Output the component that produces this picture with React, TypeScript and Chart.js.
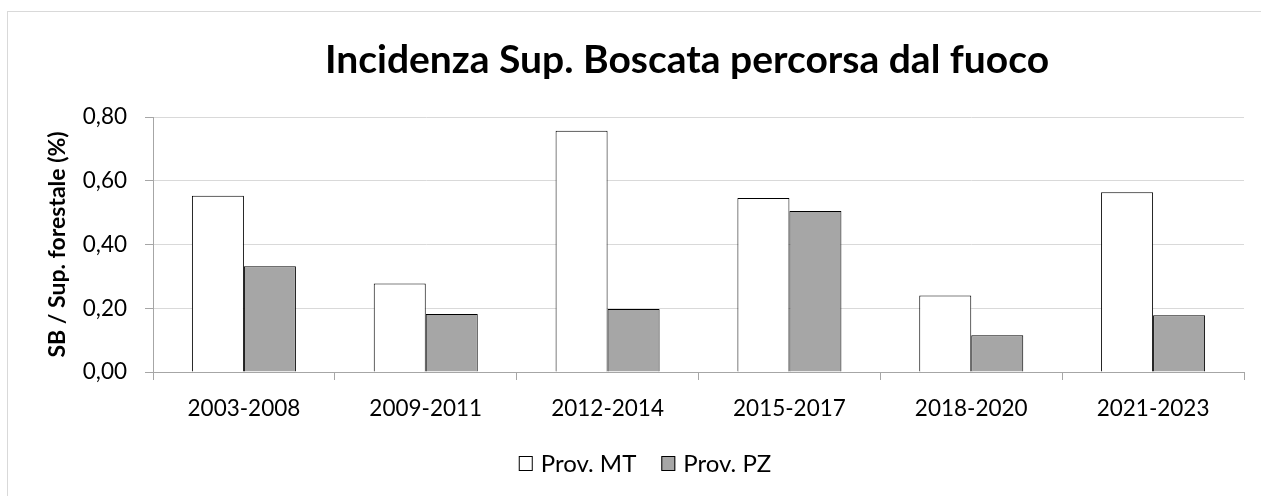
import React, { useEffect, useRef } from "react";
import { Chart, registerables } from "chart.js";

Chart.register(...registerables);

const categories = ["2003-2008", "2009-2011", "2012-2014", "2015-2017", "2018-2020", "2021-2023"];
const seriesMT = [0.553, 0.278, 0.757, 0.546, 0.24, 0.564];
const seriesPZ = [0.332, 0.182, 0.198, 0.505, 0.115, 0.178];
const yTicks = [0, 0.2, 0.4, 0.6, 0.8];
const titleText = "Incidenza Sup. Boscata percorsa dal fuoco";
const yTitle = "SB / Sup. forestale (%)";

const FONT = "Lato, 'Open Sans', sans-serif";

const borderPlugin = {
  id: "outerBorder",
  beforeDraw(chart: any) {
    const ctx = chart.ctx;
    ctx.save();
    ctx.fillStyle = "#ffffff";
    ctx.fillRect(0, 0, chart.width, chart.height);
    ctx.strokeStyle = "#d9d9d9";
    ctx.lineWidth = 1;
    ctx.strokeRect(7.5, 11.5, chart.width + 20, chart.height + 20);
    ctx.restore();
  },
};

const titlePlugin = {
  id: "centeredTitle",
  afterDraw(chart: any) {
    const ctx = chart.ctx;
    ctx.save();
    ctx.fillStyle = "#000000";
    ctx.font = `bold 39px ${FONT}`;
    ctx.textAlign = "center";
    ctx.textBaseline = "alphabetic";
    ctx.fillText(titleText, 687, 73);
    ctx.restore();
  },
};

const legendPlugin = {
  id: "customLegend",
  afterDraw(chart: any) {
    const ctx = chart.ctx;
    ctx.save();
    ctx.font = `24px ${FONT}`;
    ctx.textBaseline = "alphabetic";
    ctx.textAlign = "left";
    const box = 14;
    const gapText = 8;
    const gapItem = 25;
    const items = chart.data.datasets.map((d: any) => ({
      label: d.label,
      fill: d.backgroundColor,
      w: box + gapText + ctx.measureText(d.label).width,
    }));
    const total = items.reduce((s: number, it: any) => s + it.w, 0) + gapItem * (items.length - 1);
    let x = 645 - total / 2;
    const boxTop = 456.5;
    items.forEach((it: any) => {
      ctx.fillStyle = it.fill;
      ctx.fillRect(x, boxTop, box, box);
      ctx.strokeStyle = "#000000";
      ctx.lineWidth = 1;
      ctx.strokeRect(x + 0.5, boxTop, box - 1, box);
      ctx.fillStyle = "#000000";
      ctx.fillText(it.label, x + box + gapText, 471.5);
      x += it.w + gapItem;
    });
    ctx.restore();
  },
};

export default function App() {
  const ref = useRef<HTMLCanvasElement | null>(null);
  useEffect(() => {
    if (!ref.current) return;
    const chart = new Chart(ref.current, {
      type: "bar",
      data: {
        labels: categories,
        datasets: [
          {
            label: "Prov. MT",
            data: seriesMT,
            backgroundColor: "#ffffff",
            borderColor: "#000000",
            borderWidth: 1,
          },
          {
            label: "Prov. PZ",
            data: seriesPZ,
            backgroundColor: "#a6a6a6",
            borderColor: "#000000",
            borderWidth: 1,
          },
        ],
      },
      options: {
        responsive: false,
        animation: false,
        layout: { padding: { left: 0, right: 17, top: 117, bottom: 63 } },
        datasets: { bar: { barPercentage: 1, categoryPercentage: 0.572 } },
        plugins: {
          title: { display: false },
          legend: { display: false },
          tooltip: { enabled: false },
        },
        scales: {
          x: {
            grid: {
              display: true,
              drawOnChartArea: false,
              drawTicks: true,
              tickLength: 8,
              color: "#a6a6a6",
              offset: true,
            },
            border: { display: true, color: "#a6a6a6", width: 1 },
            ticks: {
              color: "#000000",
              font: { family: FONT, size: 22.5 },
              padding: 15,
            },
            afterFit(scale: any) {
              scale.height = 61;
            },
          },
          y: {
            min: 0,
            max: 0.8,
            afterBuildTicks(scale: any) {
              scale.ticks = yTicks.map((v) => ({ value: v }));
            },
            grid: {
              color: "#d9d9d9",
              tickColor: "#a6a6a6",
              tickLength: 8,
            },
            border: { display: true, color: "#a6a6a6", width: 1 },
            ticks: {
              color: "#000000",
              font: { family: FONT, size: 22.5 },
              padding: 18,
              callback: (v: any) => Number(v).toFixed(2).replace(".", ","),
            },
            title: {
              display: true,
              text: yTitle,
              color: "#000000",
              font: { family: FONT, size: 23, weight: "bold" },
              padding: { top: 44, bottom: 0 },
            },
            afterFit(scale: any) {
              scale.width = 153;
            },
          },
        },
      },
      plugins: [borderPlugin, titlePlugin, legendPlugin],
    } as any);
    return () => chart.destroy();
  }, []);
  return (
    <div style={{ position: "absolute", left: 0, top: 0, width: 1261, height: 496 }}>
      <canvas ref={ref} width={1261} height={496} style={{ display: "block" }} />
    </div>
  );
}
